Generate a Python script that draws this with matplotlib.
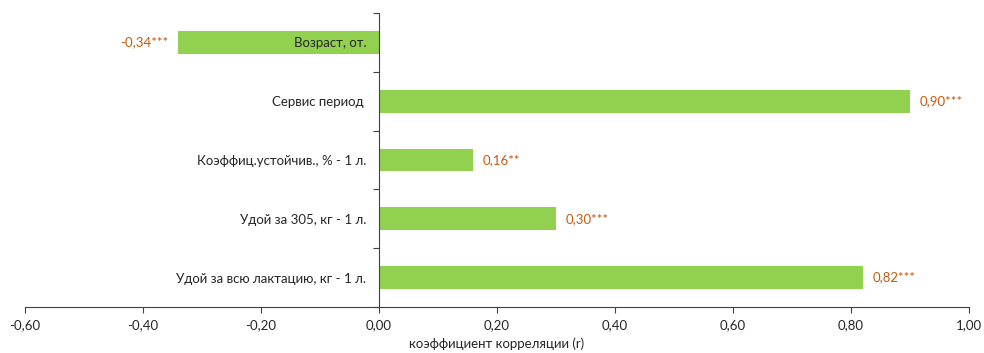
import matplotlib
matplotlib.use("Agg")
import matplotlib.pyplot as plt
import numpy as np
from matplotlib.ticker import FixedLocator, FuncFormatter

# data, bottom to top
categories = [
    "Удой за всю лактацию, кг - 1 л.",
    "Удой за 305, кг - 1 л.",
    "Коэффиц.устойчив., % - 1 л.",
    "Сервис период ",
    "Возраст, от.",
]
values = [0.82, 0.30, 0.16, 0.90, -0.34]
value_labels = ["0,82***", "0,30***", "0,16**", "0,90***", "-0,34***"]
xticks = [-0.6, -0.4, -0.2, 0.0, 0.2, 0.4, 0.6, 0.8, 1.0]

BAR = "#92D050"
LABEL = "#C55A11"
TEXT = "#262626"
AXIS = "#404040"

plt.rcParams["font.family"] = ["Lato", "DejaVu Sans"]

fig = plt.figure(figsize=(9.84, 3.53), dpi=100)
ax = fig.add_axes([25 / 984, 46 / 353, 944 / 984, 294 / 353])

y = np.arange(len(categories))
ax.barh(y, values, height=0.39, color=BAR, zorder=1)

ax.set_xlim(-0.6, 1.0)
ax.set_ylim(-0.5, len(categories) - 0.5)

# spines: y-axis sits at x=0
for s in ("top", "right"):
    ax.spines[s].set_visible(False)
ax.spines["left"].set_position(("data", 0))
ax.spines["left"].set_color(AXIS)
ax.spines["bottom"].set_color(AXIS)
ax.spines["left"].set_zorder(3)

ax.set_xticks(xticks)
ax.xaxis.set_major_formatter(FuncFormatter(lambda v, p: f"{v:.2f}".replace(".", ",")))
ax.tick_params(axis="x", length=4, color=AXIS, labelsize=9.5, labelcolor=TEXT, pad=5)

# category ticks at boundaries, labels at centres
ax.yaxis.set_major_locator(FixedLocator(np.arange(-0.5, len(categories), 1.0)))
ax.yaxis.set_major_formatter(FuncFormatter(lambda v, p: ""))
ax.yaxis.set_minor_locator(FixedLocator(y))
ax.set_yticklabels(categories, minor=True)
ax.tick_params(axis="y", which="major", length=4, color=AXIS)
ax.tick_params(axis="y", which="minor", length=0, labelsize=9.5, labelcolor=TEXT, pad=9)
ax.yaxis.set_zorder(3)

for yi, v, lab in zip(y, values, value_labels):
    if v >= 0:
        ax.annotate(lab, (v, yi), xytext=(7, 0), textcoords="offset points",
                    ha="left", va="center", color=LABEL, fontsize=9.5)
    else:
        ax.annotate(lab, (v, yi), xytext=(-7, 0), textcoords="offset points",
                    ha="right", va="center", color=LABEL, fontsize=9.5)

ax.set_xlabel("коэффициент корреляции (r)", fontsize=9.5, color=TEXT, labelpad=4)

fig.savefig("out.png", dpi=100)
